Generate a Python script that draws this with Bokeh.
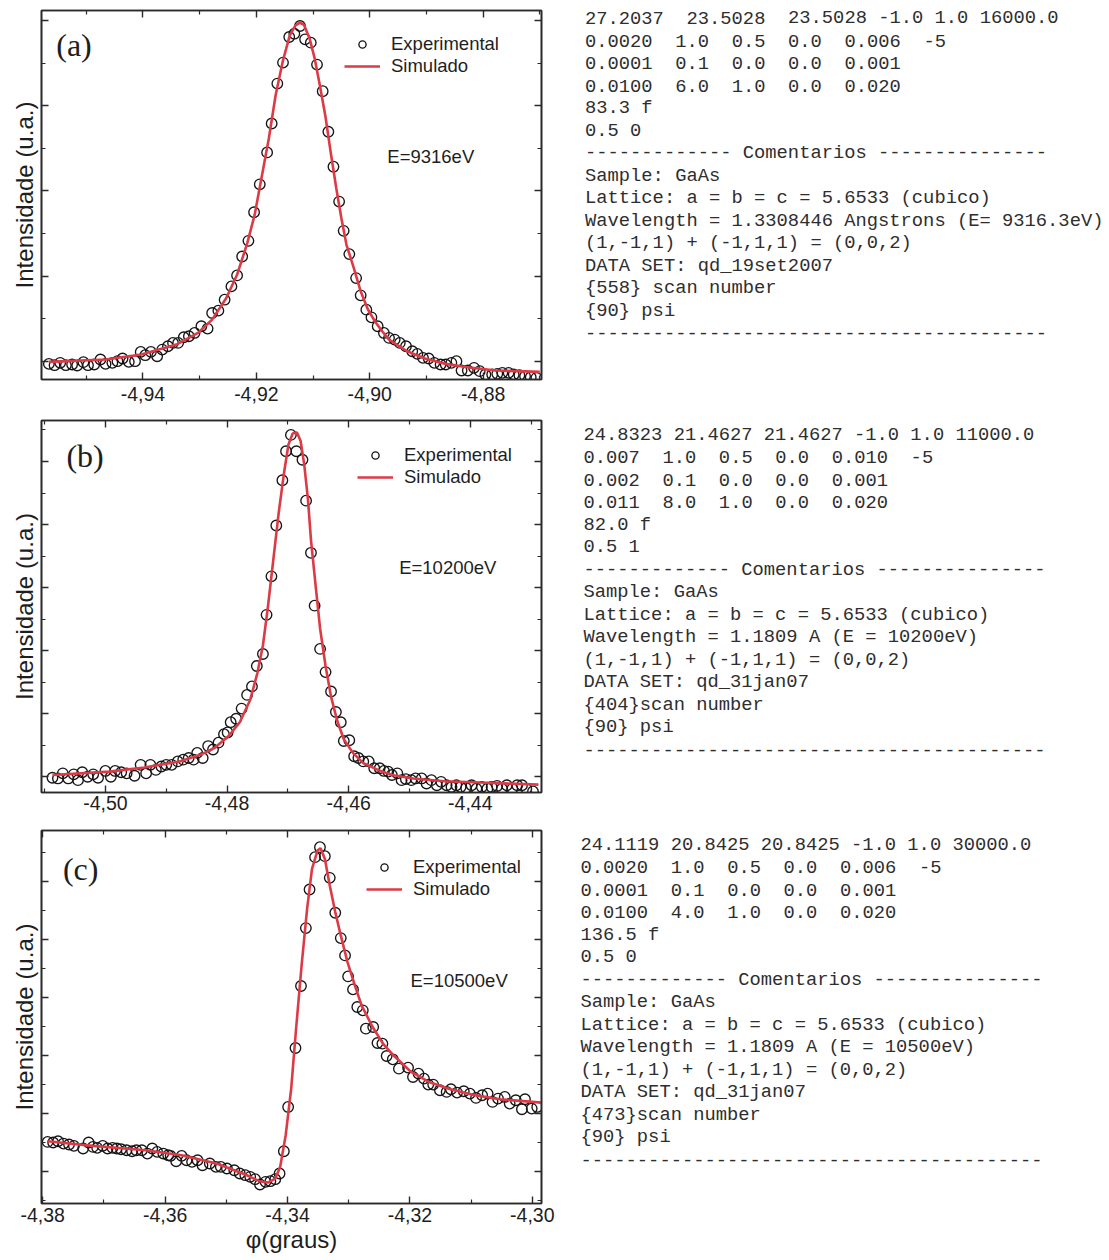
import re
from bokeh.plotting import figure
from bokeh.models import (Range1d, LinearAxis, FixedTicker, CustomJSTickFormatter,
                          Legend, LegendItem, Label)
from bokeh.layouts import column, row
from bokeh.embed import file_html
from bokeh.resources import INLINE
from bokeh.core.properties import value

# ---------------- data: panel (a) E=9316eV ----------------
a_exp_x = [-4.9566, -4.9556, -4.9546, -4.9536, -4.9525, -4.9516, -4.9505, -4.9497, -4.9486, -4.9475,
           -4.9466, -4.9454, -4.9445, -4.9436, -4.9425, -4.9414, -4.9404, -4.9396, -4.9386, -4.9375,
           -4.9366, -4.9356, -4.9347, -4.9338, -4.9328, -4.9319, -4.9309, -4.9297, -4.9286, -4.9278,
           -4.9267, -4.9256, -4.9244, -4.9234, -4.9225, -4.9214, -4.9204, -4.9194, -4.9181, -4.9173,
           -4.9163, -4.9153, -4.9142, -4.9133, -4.9123, -4.9114, -4.9104, -4.9093, -4.9083, -4.9073,
           -4.9064, -4.9054, -4.9046, -4.9036, -4.9024, -4.9016, -4.9006, -4.8997, -4.8986, -4.8975,
           -4.8966, -4.8956, -4.8947, -4.8936, -4.8925, -4.8916, -4.8906, -4.8896, -4.8886, -4.8875,
           -4.8866, -4.8856, -4.8847, -4.8838, -4.8827, -4.8816, -4.8806, -4.8796, -4.8784, -4.8775,
           -4.8766, -4.8755, -4.8746, -4.8736, -4.8726, -4.8716, -4.8706]
a_exp_y = [-0.0063, -0.0094, -0.0039, -0.0094, -0.0078, -0.0102, -0.0023, -0.0094, -0.0078, 0.0039,
           -0.0063, -0.0039, 0.0000, 0.0063, -0.0016, 0.0000, 0.0219, 0.0141, 0.0219, 0.0117,
           0.0273, 0.0352, 0.0430, 0.0430, 0.0563, 0.0586, 0.0664, 0.0820, 0.0766, 0.1133,
           0.1188, 0.1445, 0.1758, 0.2016, 0.2461, 0.2828, 0.3500, 0.4156, 0.4906, 0.5586,
           0.6523, 0.7016, 0.7617, 0.7695, 0.7875, 0.7563, 0.7484, 0.6969, 0.6344, 0.5391,
           0.4570, 0.3750, 0.3063, 0.2516, 0.1953, 0.1547, 0.1211, 0.1031, 0.0820, 0.0664,
           0.0547, 0.0508, 0.0430, 0.0352, 0.0234, 0.0172, 0.0078, 0.0063, -0.0039, -0.0078,
           -0.0078, -0.0039, 0.0000, -0.0219, -0.0219, -0.0156, -0.0234, -0.0313, -0.0313, -0.0297,
           -0.0273, -0.0273, -0.0313, -0.0328, -0.0352, -0.0375, -0.0391]
a_sim_x = [-4.9566, -4.9466, -4.9403, -4.9341, -4.9303, -4.9278, -4.9253, -4.9234, -4.9216, -4.9203,
           -4.9191, -4.9178, -4.9166, -4.9153, -4.9141, -4.9131, -4.9123, -4.9116, -4.9106, -4.9097,
           -4.9088, -4.9078, -4.9069, -4.9059, -4.9050, -4.9041, -4.9028, -4.9016, -4.9003, -4.8991,
           -4.8978, -4.8966, -4.8934, -4.8903, -4.8866, -4.8828, -4.8778, -4.8700]
a_sim_y = [-0.0016, 0.0039, 0.0156, 0.0391, 0.0664, 0.0977, 0.1484, 0.2031, 0.2773, 0.3438,
           0.4297, 0.5234, 0.6250, 0.7070, 0.7656, 0.7891, 0.7953, 0.7906, 0.7578, 0.7109,
           0.6484, 0.5742, 0.4922, 0.4063, 0.3359, 0.2734, 0.2188, 0.1641, 0.1211, 0.0938,
           0.0703, 0.0508, 0.0234, 0.0063, -0.0063, -0.0141, -0.0219, -0.0250]

# ---------------- data: panel (b) E=10200eV ----------------
b_exp_x = [-4.5087, -4.5078, -4.5070, -4.5061, -4.5052, -4.5045, -4.5038, -4.5029, -4.5020, -4.5012,
           -4.5000, -4.4991, -4.4984, -4.4974, -4.4965, -4.4952, -4.4942, -4.4933, -4.4926, -4.4917,
           -4.4908, -4.4900, -4.4891, -4.4881, -4.4872, -4.4863, -4.4855, -4.4849, -4.4840, -4.4831,
           -4.4823, -4.4814, -4.4805, -4.4799, -4.4794, -4.4785, -4.4776, -4.4767, -4.4759, -4.4751,
           -4.4741, -4.4735, -4.4727, -4.4719, -4.4709, -4.4703, -4.4695, -4.4686, -4.4676, -4.4670,
           -4.4662, -4.4656, -4.4647, -4.4638, -4.4629, -4.4621, -4.4613, -4.4608, -4.4599, -4.4591,
           -4.4584, -4.4576, -4.4567, -4.4558, -4.4549, -4.4542, -4.4535, -4.4529, -4.4520, -4.4513,
           -4.4506, -4.4497, -4.4490, -4.4480, -4.4472, -4.4464, -4.4455, -4.4448, -4.4439, -4.4431,
           -4.4423, -4.4416, -4.4407, -4.4398, -4.4390, -4.4381, -4.4372, -4.4365, -4.4356, -4.4348,
           -4.4340, -4.4331, -4.4323, -4.4315, -4.4308, -4.4297]
b_exp_y = [-0.0032, -0.0054, 0.0108, -0.0054, 0.0076, -0.0108, 0.0141, 0.0000, 0.0076, -0.0032,
           0.0184, 0.0000, 0.0184, 0.0141, 0.0108, 0.0032, 0.0378, 0.0108, 0.0378, 0.0216,
           0.0324, 0.0378, 0.0378, 0.0486, 0.0541, 0.0595, 0.0541, 0.0757, 0.0595, 0.0973,
           0.0865, 0.1081, 0.1351, 0.1405, 0.1730, 0.1838, 0.2162, 0.2595, 0.2865, 0.3514,
           0.3892, 0.5135, 0.6357, 0.7968, 0.9405, 1.0324, 1.0843, 1.0324, 1.0054, 0.8757,
           0.7103, 0.5427, 0.4054, 0.3319, 0.2703, 0.2054, 0.1730, 0.1135, 0.1157, 0.0649,
           0.0595, 0.0486, 0.0486, 0.0270, 0.0270, 0.0184, 0.0162, 0.0054, 0.0108, -0.0108,
           -0.0076, -0.0108, -0.0054, -0.0054, -0.0216, -0.0108, -0.0270, -0.0162, -0.0270, -0.0324,
           -0.0270, -0.0324, -0.0357, -0.0270, -0.0378, -0.0324, -0.0378, -0.0324, -0.0292, -0.0378,
           -0.0270, -0.0378, -0.0270, -0.0270, -0.0378, -0.0465]
b_sim_x = [-4.5087, -4.4994, -4.4936, -4.4878, -4.4843, -4.4820, -4.4797, -4.4779, -4.4762, -4.4750,
           -4.4741, -4.4733, -4.4724, -4.4715, -4.4706, -4.4699, -4.4692, -4.4685, -4.4679, -4.4673,
           -4.4667, -4.4662, -4.4654, -4.4647, -4.4638, -4.4629, -4.4619, -4.4608, -4.4593, -4.4576,
           -4.4552, -4.4529, -4.4494, -4.4442, -4.4384, -4.4288]
b_sim_y = [0.0054, 0.0162, 0.0292, 0.0486, 0.0703, 0.0919, 0.1297, 0.1730, 0.2432, 0.3297,
           0.4162, 0.5351, 0.6865, 0.8378, 0.9676, 1.0541, 1.0886, 1.0919, 1.0649, 0.9892,
           0.8811, 0.7514, 0.6000, 0.4703, 0.3514, 0.2541, 0.1784, 0.1189, 0.0757, 0.0432,
           0.0216, 0.0054, -0.0054, -0.0141, -0.0184, -0.0249]

# ---------------- data: panel (c) E=10500eV ----------------
c_exp_x = [-4.3792, -4.3783, -4.3775, -4.3766, -4.3757, -4.3749, -4.3734, -4.3725, -4.3718, -4.3711,
           -4.3702, -4.3694, -4.3686, -4.3679, -4.3672, -4.3663, -4.3654, -4.3647, -4.3638, -4.3629,
           -4.3621, -4.3613, -4.3603, -4.3595, -4.3591, -4.3582, -4.3573, -4.3565, -4.3556, -4.3547,
           -4.3539, -4.3527, -4.3517, -4.3509, -4.3499, -4.3487, -4.3478, -4.3469, -4.3461, -4.3453,
           -4.3445, -4.3436, -4.3428, -4.3420, -4.3413, -4.3406, -4.3399, -4.3387, -4.3378, -4.3370,
           -4.3364, -4.3355, -4.3347, -4.3339, -4.3331, -4.3322, -4.3313, -4.3306, -4.3301, -4.3293,
           -4.3286, -4.3277, -4.3272, -4.3260, -4.3253, -4.3245, -4.3238, -4.3228, -4.3218, -4.3203,
           -4.3195, -4.3186, -4.3177, -4.3170, -4.3162, -4.3151, -4.3140, -4.3133, -4.3123, -4.3112,
           -4.3102, -4.3092, -4.3082, -4.3073, -4.3065, -4.3056, -4.3045, -4.3037, -4.3027, -4.3017,
           -4.3012, -4.3001, -4.2992]
c_exp_y = [0.1011, 0.0989, 0.1034, 0.0954, 0.0920, 0.0874, 0.0782, 0.0989, 0.0839, 0.0805,
           0.0874, 0.0782, 0.0805, 0.0782, 0.0759, 0.0724, 0.0690, 0.0724, 0.0724, 0.0609,
           0.0782, 0.0667, 0.0609, 0.0552, 0.0529, 0.0345, 0.0529, 0.0379, 0.0322, 0.0379,
           0.0207, 0.0264, 0.0149, 0.0149, 0.0092, 0.0034, -0.0080, -0.0138, -0.0195, -0.0276,
           -0.0460, -0.0368, -0.0345, -0.0276, -0.0080, 0.0690, 0.2218, 0.4253, 0.6391, 0.8391,
           0.9724, 1.0839, 1.1184, 1.0874, 1.0126, 0.8920, 0.8046, 0.7448, 0.6724, 0.6276,
           0.5667, 0.5552, 0.4920, 0.4977, 0.4425, 0.4402, 0.3977, 0.3862, 0.3540, 0.3575,
           0.3253, 0.3368, 0.3195, 0.2989, 0.2989, 0.2793, 0.2736, 0.2828, 0.2713, 0.2759,
           0.2678, 0.2529, 0.2621, 0.2678, 0.2391, 0.2506, 0.2563, 0.2333, 0.2448, 0.2138,
           0.2483, 0.2161, 0.2218]
c_sim_x = [-4.3792, -4.3718, -4.3631, -4.3573, -4.3516, -4.3469, -4.3446, -4.3432, -4.3420, -4.3412,
           -4.3403, -4.3394, -4.3386, -4.3377, -4.3368, -4.3360, -4.3351, -4.3346, -4.3339, -4.3331,
           -4.3322, -4.3313, -4.3302, -4.3290, -4.3279, -4.3261, -4.3244, -4.3227, -4.3198, -4.3169,
           -4.3134, -4.3099, -4.3053, -4.2985]
c_sim_y = [0.1034, 0.0874, 0.0724, 0.0552, 0.0264, -0.0115, -0.0345, -0.0391, -0.0253, 0.0149,
           0.1241, 0.2851, 0.4920, 0.7103, 0.9057, 1.0437, 1.1069, 1.1149, 1.0782, 0.9862,
           0.8943, 0.8138, 0.7218, 0.6414, 0.5724, 0.4977, 0.4402, 0.4000, 0.3425, 0.3080,
           0.2828, 0.2644, 0.2483, 0.2368]

# ---------------- ticks ----------------
a_xmajor = [-4.96, -4.94, -4.92, -4.90, -4.88]
a_xminor = [-4.95, -4.93, -4.91, -4.89, -4.87]
b_xmajor = [-4.50, -4.48, -4.46, -4.44]
b_xminor = [-4.51, -4.49, -4.47, -4.45, -4.43]
c_xmajor = [-4.38, -4.36, -4.34, -4.32, -4.30]
c_xminor = [-4.37, -4.35, -4.33, -4.31]
a_ymajor = [0.0, 0.2, 0.4, 0.6, 0.8]
a_yminor = [0.1, 0.3, 0.5, 0.7]
b_ymajor = [0.0, 0.2, 0.4, 0.6, 0.8, 1.0]
b_yminor = [0.1, 0.3, 0.5, 0.7, 0.9, 1.1]
c_ymajor = [0.0, 0.2, 0.4, 0.6, 0.8, 1.0]
c_yminor = [-0.1, 0.1, 0.3, 0.5, 0.7, 0.9, 1.1]

# ---------------- texts ----------------
a_text = [
    "27.2037  23.5028  23.5028 -1.0 1.0 16000.0",
    "0.0020  1.0  0.5  0.0  0.006  -5",
    "0.0001  0.1  0.0  0.0  0.001",
    "0.0100  6.0  1.0  0.0  0.020",
    "83.3 f",
    "0.5 0",
    "------------- Comentarios ---------------",
    "Sample: GaAs",
    "Lattice: a = b = c = 5.6533 (cubico)",
    "Wavelength = 1.3308446 Angstrons (E= 9316.3eV)",
    "(1,-1,1) + (-1,1,1) = (0,0,2)",
    "DATA SET: qd_19set2007",
    "{558} scan number",
    "{90} psi",
    "-----------------------------------------",
]
b_text = [
    "24.8323 21.4627 21.4627 -1.0 1.0 11000.0",
    "0.007  1.0  0.5  0.0  0.010  -5",
    "0.002  0.1  0.0  0.0  0.001",
    "0.011  8.0  1.0  0.0  0.020",
    "82.0 f",
    "0.5 1",
    "------------- Comentarios ---------------",
    "Sample: GaAs",
    "Lattice: a = b = c = 5.6533 (cubico)",
    "Wavelength = 1.1809 A (E = 10200eV)",
    "(1,-1,1) + (-1,1,1) = (0,0,2)",
    "DATA SET: qd_31jan07",
    "{404}scan number",
    "{90} psi",
    "-----------------------------------------",
]
c_text = [
    "24.1119 20.8425 20.8425 -1.0 1.0 30000.0",
    "0.0020  1.0  0.5  0.0  0.006  -5",
    "0.0001  0.1  0.0  0.0  0.001",
    "0.0100  4.0  1.0  0.0  0.020",
    "136.5 f",
    "0.5 0",
    "------------- Comentarios ---------------",
    "Sample: GaAs",
    "Lattice: a = b = c = 5.6533 (cubico)",
    "Wavelength = 1.1809 A (E = 10500eV)",
    "(1,-1,1) + (-1,1,1) = (0,0,2)",
    "DATA SET: qd_31jan07",
    "{473}scan number",
    "{90} psi",
    "-----------------------------------------",
]

SANS = "Liberation Sans"
MONO = "Liberation Mono"
SERIF = "Liberation Serif"
FRAME = "#2a2a2a"
RED = "#dc3a46"
PW = 568
TOTAL_W = 1109
TOTAL_H = 1258
MONO_PX = 18.8
LINE_H = 22.5


def style_axis(ax, maj, mnr, labels):
    ax.ticker = FixedTicker(ticks=maj, minor_ticks=mnr)
    ax.major_tick_in = 7
    ax.major_tick_out = 0
    ax.minor_tick_in = 4
    ax.minor_tick_out = 0
    ax.axis_line_color = FRAME
    ax.axis_line_width = 1.6
    ax.major_tick_line_color = FRAME
    ax.major_tick_line_width = 1.4
    ax.minor_tick_line_color = FRAME
    ax.minor_tick_line_width = 1.2
    if labels:
        ax.major_label_text_font = SANS
        ax.major_label_text_font_size = "19.5px"
        ax.major_label_text_color = "#1e1e1e"
        ax.formatter = CustomJSTickFormatter(code="return tick.toFixed(2).replace('.', ',');")
    else:
        ax.major_label_text_font_size = "1px"
        ax.major_label_text_color = None
        ax.major_label_standoff = 0


def make_panel(cfg):
    p = figure(width=PW, height=cfg["h"], output_backend="svg", toolbar_location=None,
               x_range=Range1d(*cfg["xr"]), y_range=Range1d(*cfg["yr"]),
               min_border_left=cfg["bl"], min_border_right=cfg["br"],
               min_border_top=cfg["bt"], min_border_bottom=cfg["bb"],
               x_axis_location=None, y_axis_location=None)
    p.grid.visible = False
    p.outline_line_color = FRAME
    p.outline_line_width = 1.6
    p.background_fill_color = "white"
    p.border_fill_color = "white"

    xb = LinearAxis()
    style_axis(xb, cfg["xmaj"], cfg["xmin"], True)
    xb.major_label_standoff = cfg["xstand"]
    if cfg.get("xlabel"):
        xb.axis_label = cfg["xlabel"]
        xb.axis_label_text_font = SANS
        xb.axis_label_text_font_style = "normal"
        xb.axis_label_text_font_size = "24px"
        xb.axis_label_text_color = "#1e1e1e"
        xb.axis_label_standoff = 1
    p.add_layout(xb, "below")
    xt = LinearAxis()
    style_axis(xt, cfg["xmaj"], cfg["xmin"], False)
    p.add_layout(xt, "above")

    yl = LinearAxis()
    style_axis(yl, cfg["ymaj"], cfg["ymin"], False)
    yl.axis_label = "Intensidade (u.a.)"
    yl.axis_label_text_font = SANS
    yl.axis_label_text_font_style = "normal"
    yl.axis_label_text_font_size = "24px"
    yl.axis_label_text_color = "#1e1e1e"
    yl.axis_label_standoff = 4
    p.add_layout(yl, "left")
    yr = LinearAxis()
    style_axis(yr, cfg["ymaj"], cfg["ymin"], False)
    p.add_layout(yr, "right")

    r_exp = p.scatter(cfg["ex"], cfg["ey"], marker="circle", size=10.5, fill_color=None,
                      line_color="#151515", line_width=1.35)
    r_sim = p.line(cfg["sx"], cfg["sy"], line_color=RED, line_width=2.6)

    leg = Legend(items=[LegendItem(label="Experimental", renderers=[r_exp]),
                        LegendItem(label="Simulado", renderers=[r_sim])],
                 location=cfg["leg"], border_line_color=None, background_fill_alpha=0,
                 glyph_width=36, glyph_height=18, label_height=18, spacing=0, padding=0,
                 margin=0, label_standoff=11, label_text_font=SANS,
                 label_text_font_size="18.5px", label_text_color="#1e1e1e")
    p.add_layout(leg)

    p.add_layout(Label(x=cfg["tag_xy"][0], y=cfg["tag_xy"][1], text=cfg["tag"],
                       text_font=SERIF, text_font_size="32px", text_color="#1e1e1e",
                       text_baseline="middle", text_align="left"))
    p.add_layout(Label(x=cfg["e_xy"][0], y=cfg["e_xy"][1], text=cfg["etext"],
                       text_font=SANS, text_font_size="18.5px", text_color="#1e1e1e",
                       text_baseline="middle", text_align="left"))
    return p


def make_text(blocks):
    # one tall figure holding all three parameter listings; coordinates in page pixels
    w = TOTAL_W - PW
    t = figure(width=w, height=TOTAL_H, output_backend="svg", toolbar_location=None,
               x_range=Range1d(0, w), y_range=Range1d(TOTAL_H, 0),
               min_border=0, x_axis_location=None, y_axis_location=None)
    t.grid.visible = False
    t.outline_line_color = None
    cw = 0.6 * MONO_PX
    xs, ys, ts = [], [], []
    for lines, x0, y0 in blocks:
        for i, line in enumerate(lines):
            # keep fixed columns: split on runs of 2+ spaces, place by column index
            for m in re.finditer(r"\S+(?: \S+)*", line):
                xs.append(x0 + m.start() * cw)
                ys.append(y0 + LINE_H * i)
                ts.append(m.group(0))
    t.text(x=xs, y=ys, text=ts, text_font=value(MONO), text_font_size=f"{MONO_PX}px",
           text_color="#2e2e2e", text_baseline="alphabetic", text_align="left")
    return t


pa = make_panel(dict(h=409, xr=(-4.9579, -4.8697), yr=(-0.043, 0.824),
                     bl=41, br=21, bt=10, bb=30, xstand=7,
                     xmaj=a_xmajor, xmin=a_xminor, ymaj=a_ymajor, ymin=a_yminor,
                     ex=a_exp_x, ey=a_exp_y, sx=a_sim_x, sy=a_sim_y,
                     leg=(303, 302), tag="(a)", tag_xy=(-4.9553, 0.742),
                     etext="E=9316eV", e_xy=(-4.8969, 0.482)))
pb = make_panel(dict(h=408, xr=(-4.5105, -4.4283), yr=(-0.05, 1.13),
                     bl=39, br=22, bt=11, bb=25, xstand=3,
                     xmaj=b_xmajor, xmin=b_xminor, ymaj=b_ymajor, ymin=b_yminor,
                     ex=b_exp_x, ey=b_exp_y, sx=b_sim_x, sy=b_sim_y,
                     leg=(316, 304), tag="(b)", tag_xy=(-4.5064, 1.0162),
                     etext="E=10200eV", e_xy=(-4.4517, 0.663)))
pc = make_panel(dict(h=441, xr=(-4.3802, -4.2985), yr=(-0.1115, 1.176),
                     bl=39, br=27, bt=13, bb=55, xstand=4, xlabel="φ(graus)",
                     xmaj=c_xmajor, xmin=c_xminor, ymaj=c_ymajor, ymin=c_yminor,
                     ex=c_exp_x, ey=c_exp_y, sx=c_sim_x, sy=c_sim_y,
                     leg=(325, 303), tag="(c)", tag_xy=(-4.3767, 1.0437),
                     etext="E=10500eV", e_xy=(-4.3199, 0.6586)))

tx = make_text([(a_text, 16.5, 17.8), (b_text, 15, 434.4), (c_text, 12, 844.4)])

layout = row(column(pa, pb, pc), tx)
open("out.html", "w").write(file_html(layout, INLINE))
